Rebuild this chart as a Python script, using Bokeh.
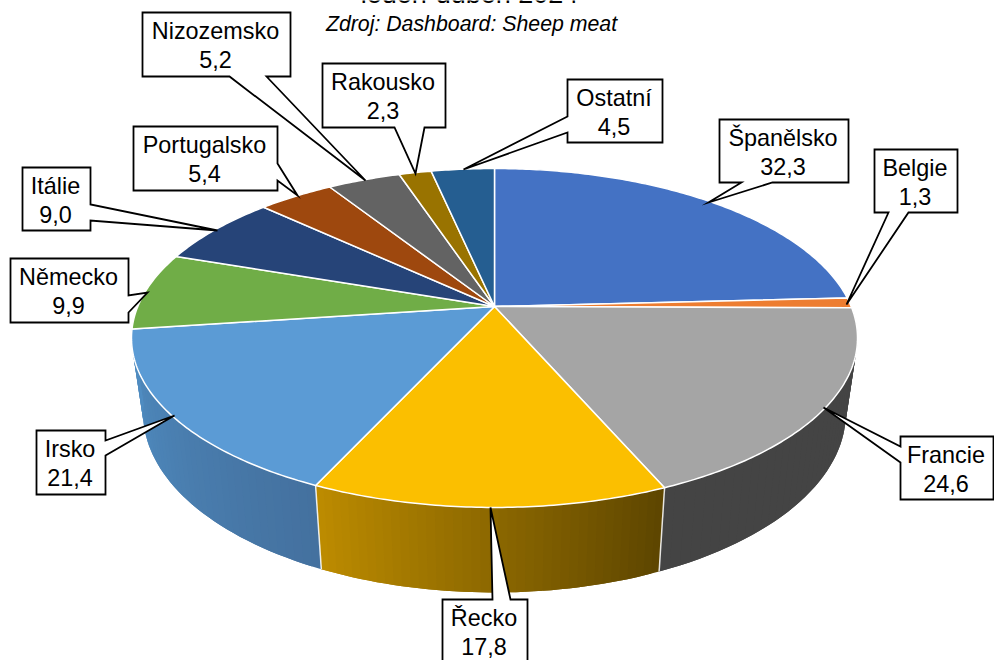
import math
from bokeh.plotting import figure
from bokeh.models import Range1d
from bokeh.core.properties import value
from bokeh.embed import file_html
from bokeh.resources import INLINE

# ---- data ----
countries = ["Španělsko", "Belgie", "Francie", "Řecko", "Irsko", "Německo",
             "Itálie", "Portugalsko", "Nizozemsko", "Rakousko", "Ostatní"]
shares = [32.3, 1.3, 24.6, 17.8, 21.4, 9.9, 9.0, 5.4, 5.2, 2.3, 4.5]
title_text = "leden-duben 2024"
source_text = "Zdroj: Dashboard: Sheep meat"

# ---- styles ----
top_colors = ["#4472C4", "#ED7D31", "#A5A5A5", "#FBBF00", "#5B9BD5", "#70AD47",
              "#264478", "#9E480E", "#636363", "#997300", "#255E91"]
side_ramps = {1: ("#8A4A1C", "#8A4A1C"), 2: ("#444444", "#444444"),
              3: ("#5E4600", "#BC8B00"), 4: ("#44719F", "#508DC2")}

# ---- layout of the callouts: box (x0, y0, x1, y1), pointer points on the outline ----
boxes = [(719, 119, 848, 182), (874, 149, 957, 212), (900, 436, 993, 499),
         (442, 599, 527, 664), (36, 430, 105, 494), (10, 258, 128, 322),
         (22, 167, 90, 230), (133, 126, 277, 190), (142, 12, 290, 76),
         (322, 63, 445, 127), (567, 79, 662, 142)]
pointers = [("b", 772, 741, 708, 202), ("b", 908, 888, 846, 304), ("l", 462, 446, 823, 407),
            ("t", 492, 510, 490, 507), ("r", 440, 455, 174, 415), ("r", 295, 312, 147, 292),
            ("r", 204, 220, 217, 230), ("r", 163, 180, 297, 195), ("b", 266, 229, 365, 180),
            ("b", 424, 394, 415, 173), ("l", 132, 116, 463, 169)]

# ---- geometry of the perspective pie ----
CX, CY = 494, 306
K = 0.1858
B, A = 356.7, 163.6
SX, SY, DROP = 0.968, 1.06, 73


def top_pt(deg):
    t = math.radians(deg)
    u, v = math.sin(t), -math.cos(t)
    d = 1 - K * v
    return CX + B * u / d, CY + A * v / d


def bottom_pt(deg):
    x, y = top_pt(deg)
    return CX + (x - CX) * SX, CY + (y - CY) * SY + DROP


total = sum(shares)
edges = [0.0]
for s in shares:
    edges.append(edges[-1] + s / total * 360)


def hexmix(c0, c1, f):
    a = [int(c0[i:i + 2], 16) for i in (1, 3, 5)]
    b = [int(c1[i:i + 2], 16) for i in (1, 3, 5)]
    return "#%02x%02x%02x" % tuple(round(p + (q - p) * f) for p, q in zip(a, b))


p = figure(width=994, height=660, output_backend="svg", toolbar_location=None,
           x_range=Range1d(0, 994), y_range=Range1d(660, 0),
           x_axis_location=None, y_axis_location=None, min_border=0,
           outline_line_color=None, margin=0, background_fill_color="white")
p.grid.visible = False

# sides, as narrow overlapping strips that carry the shading
for i, (c0, c1) in side_ramps.items():
    a0, a1 = max(edges[i], 90.0), min(edges[i + 1], 270.0)
    n = 40
    xs, ys, cols = [], [], []
    for j in range(n):
        s0 = a0 + (a1 - a0) * j / n
        s1 = a0 + (a1 - a0) * min(n, j + 2) / n
        t0, t1 = top_pt(s0), top_pt(s1)
        b0, b1 = bottom_pt(s0), bottom_pt(s1)
        sm = (s0 + s1) / 2
        tm, bm = top_pt(sm), bottom_pt(sm)
        xs.append([t0[0], tm[0], t1[0], b1[0], bm[0], b0[0]])
        ys.append([t0[1], tm[1], t1[1], b1[1], bm[1], b0[1]])
        cols.append(hexmix(c0, c1, j / (n - 1)))
    p.patches(xs, ys, fill_color=cols, line_color=None)

# seams on the side
for i in (3, 4):
    t, b = top_pt(edges[i]), bottom_pt(edges[i])
    p.line([t[0], b[0]], [t[1], b[1]], line_color="#ffffff", line_width=1.5, line_alpha=0.85)

# top face
txs, tys = [], []
for i in range(len(shares)):
    a0, a1 = edges[i], edges[i + 1]
    n = max(4, int((a1 - a0) * 1.5))
    pts = [top_pt(a0 + (a1 - a0) * j / n) for j in range(n + 1)]
    txs.append([CX] + [q[0] for q in pts])
    tys.append([CY] + [q[1] for q in pts])
p.patches(txs, tys, fill_color=top_colors, line_color="#ffffff", line_width=1.5, line_join="round")

# callouts
for (x0, y0, x1, y1), (side, a, b, tx, ty) in zip(boxes, pointers):
    if side == "b":
        px = [x0, x1, x1, a, tx, b, x0]
        py = [y0, y0, y1, y1, ty, y1, y1]
    elif side == "t":
        px = [x0, a, tx, b, x1, x1, x0]
        py = [y0, y0, ty, y0, y0, y1, y1]
    elif side == "r":
        px = [x0, x1, x1, tx, x1, x1, x0]
        py = [y0, y0, a, ty, b, y1, y1]
    else:
        px = [x0, x1, x1, x0, x0, tx, x0]
        py = [y0, y0, y1, y1, a, ty, b]
    p.patch(px, py, fill_color="white", line_color="#000000", line_width=1.8, line_join="miter")

names_x = [(b[0] + b[2]) / 2 - 1 for b in boxes]
p.text(names_x, [b[1] + 18 for b in boxes], text=countries, text_font=value("Liberation Sans"),
       text_font_size="23.4px", text_align="center", text_baseline="middle", text_color="#000000")
p.text(names_x, [b[1] + 47 for b in boxes],
       text=[f"{v:.1f}".replace(".", ",") for v in shares], text_font=value("Liberation Sans"),
       text_font_size="23.4px", text_align="center", text_baseline="middle", text_color="#000000")

p.text([469], [-7], text=[title_text], text_font=value("Liberation Sans"), text_font_size="27px",
       text_align="center", text_baseline="alphabetic", text_color="#000000")
p.text([471], [23], text=[source_text], text_font=value("Liberation Sans"), text_font_size="21.3px",
       text_font_style="italic", text_align="center", text_baseline="middle", text_color="#000000")

open("out.html", "w").write(file_html(p, INLINE))
